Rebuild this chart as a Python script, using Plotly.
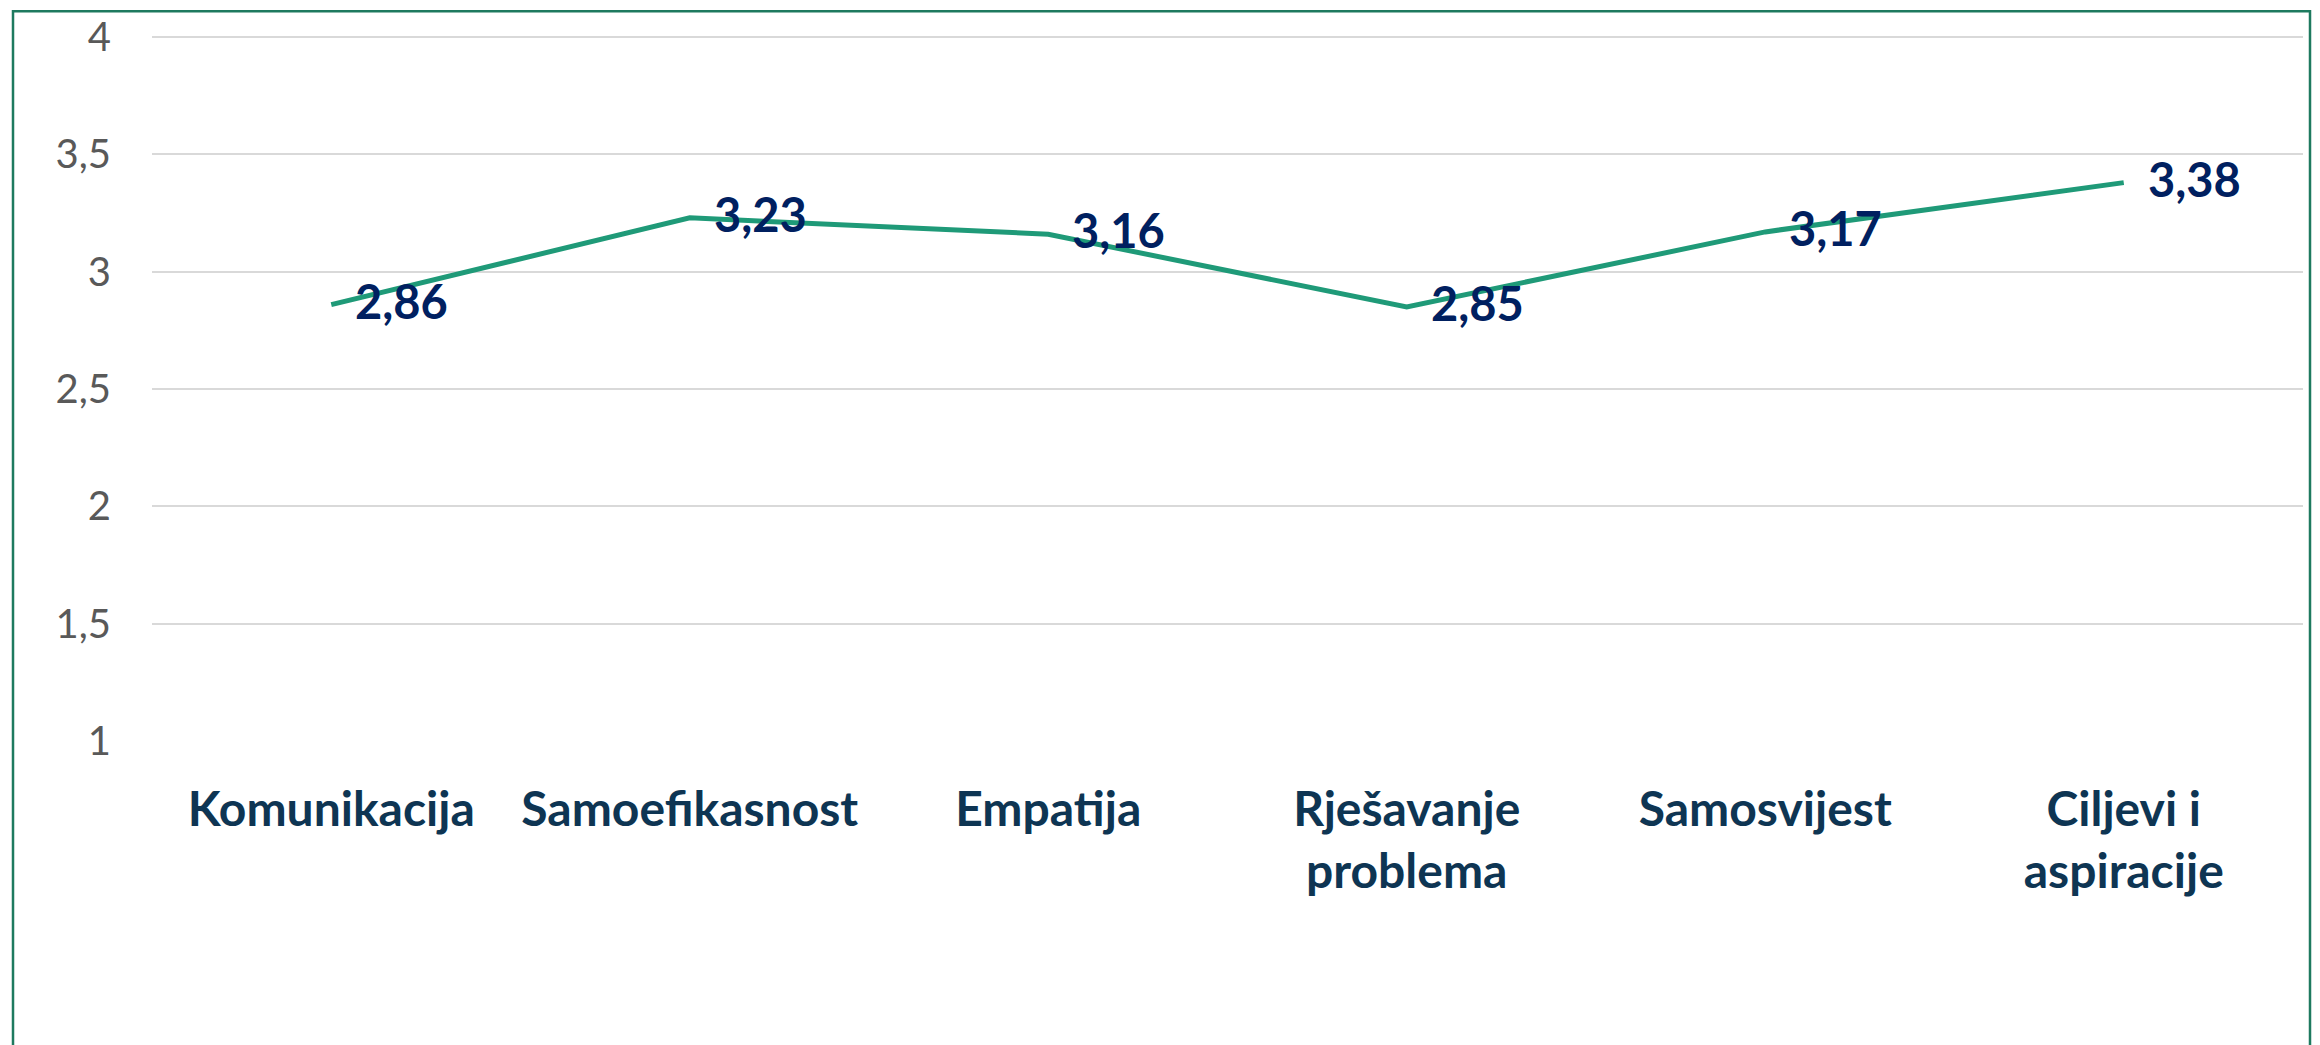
import plotly.graph_objects as go

categories = ["Komunikacija", "Samoefikasnost", "Empatija", "Rješavanje<br>problema", "Samosvijest", "Ciljevi i<br>aspiracije"]
values = [2.86, 3.23, 3.16, 2.85, 3.17, 3.38]
y_ticks = [1, 1.5, 2, 2.5, 3, 3.5, 4]

W, H = 2320, 1045
L, R, T, B = 152, 17, 32, 304
pw, ph = W - L - R, H - T - B

def px_to_paper_x(p):
    return (p - L) / pw

def px_to_paper_y(p):
    return (H - B - p) / ph

fig = go.Figure()
fig.add_trace(go.Scatter(
    x=list(range(len(categories))), y=values,
    mode="lines",
    line=dict(color="#1F9A78", width=5),
    hoverinfo="skip",
))

annotations = []
for i, v in enumerate(values):
    annotations.append(dict(
        x=i, y=v, xref="x", yref="y",
        text=f"{v:.2f}".replace(".", ","),
        showarrow=False, xanchor="left", yanchor="middle",
        xshift=22, yshift=4,
        font=dict(family="Lato", size=47, color="#002060", weight="bold"),
    ))

fig.update_layout(
    width=W, height=H,
    margin=dict(l=L, r=R, t=T, b=B),
    paper_bgcolor="white", plot_bgcolor="white",
    separators=",.",
    showlegend=False,
    annotations=annotations,
    xaxis=dict(
        range=[-0.5, len(categories) - 0.5],
        tickmode="array",
        tickvals=list(range(len(categories))),
        ticktext=categories,
        tickfont=dict(family="Lato", size=48, color="#0E3553", weight="bold"),
        showgrid=False, zeroline=False, showline=False,
        ticks="", ticklabelstandoff=36,
    ),
    yaxis=dict(
        range=[1, 4.005],
        tickvals=y_ticks,
        tickfont=dict(family="Lato", size=40, color="#595959"),
        showgrid=True, gridcolor="#D9D9D9", gridwidth=1.5,
        zeroline=False, showline=False,
        ticks="", ticklabelstandoff=40,
    ),
    shapes=[dict(
        type="rect", xref="paper", yref="paper",
        x0=px_to_paper_x(13), x1=px_to_paper_x(2310),
        y0=px_to_paper_y(1060), y1=px_to_paper_y(7),
        line=dict(color="#1E7A5F", width=2.5),
        fillcolor="rgba(0,0,0,0)",
        layer="below",
    )],
)

fig.write_html("out.html", config={"displayModeBar": False},
               post_script="document.body.style.margin='0';document.body.style.overflow='hidden';")
